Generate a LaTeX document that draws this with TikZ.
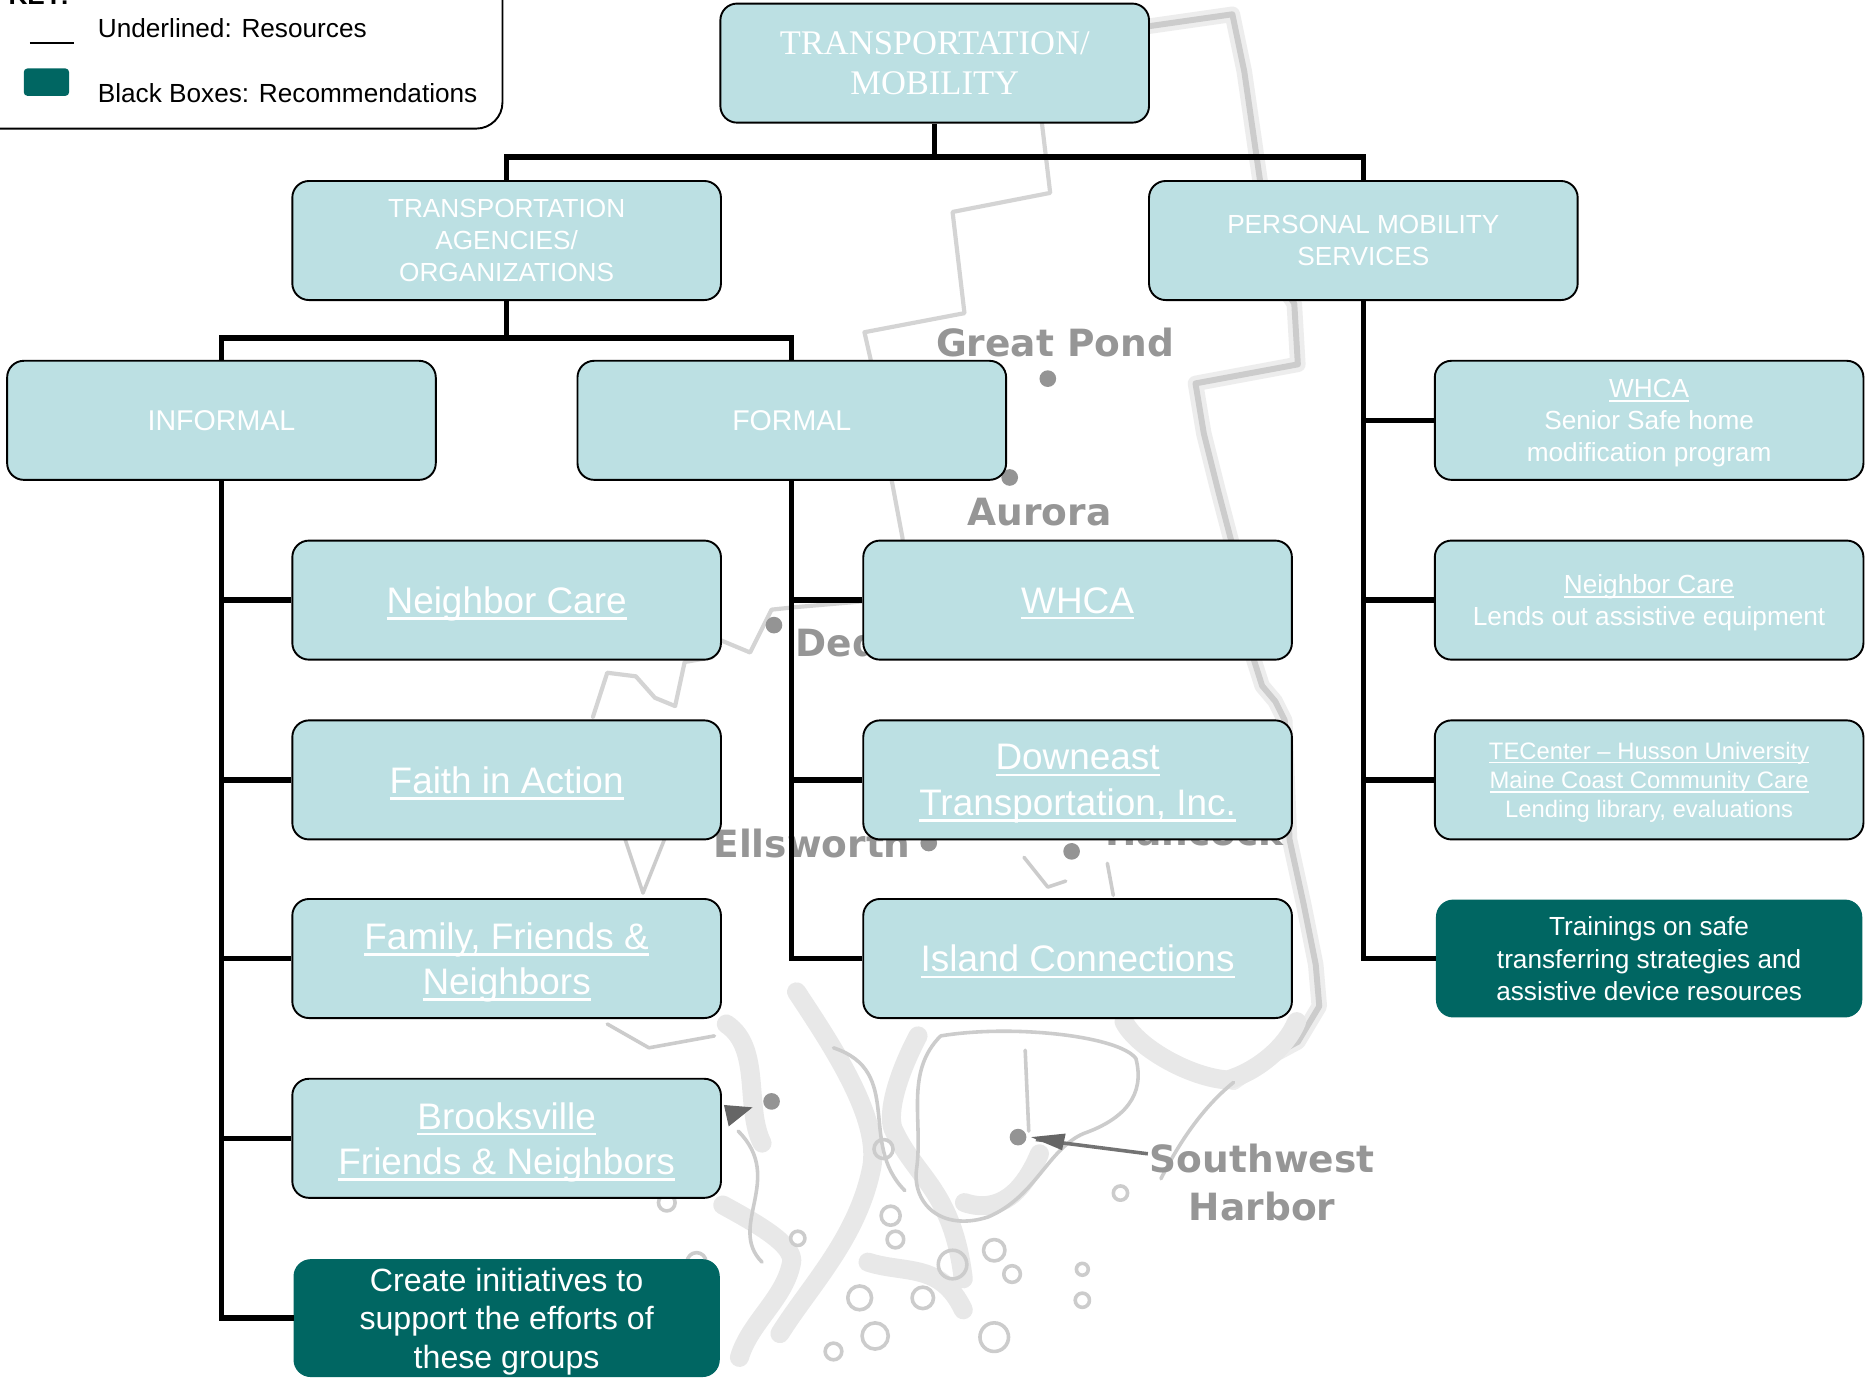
\documentclass[tikz,border=0pt]{standalone}
\usepackage{fontspec}
\setmainfont{Liberation Sans}
\newfontfamily\serifbox{Liberation Serif}
\newfontfamily\mapfont{DejaVu Sans}
\definecolor{boxfill}{RGB}{188,224,227}
\definecolor{recfill}{RGB}{0,102,98}
\definecolor{maptext}{RGB}{150,150,150}
\newcommand\ulx[1]{\setbox0\hbox{#1}\rlap{\raisebox{-0.17em}{\rule{\wd0}{0.065em}}}\box0}
\tikzset{
  box/.style={draw=black, line width=1.6pt, fill=boxfill, rounded corners=14pt,
    minimum width=360pt, minimum height=100pt, text=white, align=center, inner sep=0pt,
    text depth=0pt},
  rec/.style={draw=recfill, line width=1pt, fill=recfill, rounded corners=14pt,
    minimum width=357pt, minimum height=98pt, text=white, align=center, inner sep=0pt,
    text depth=0pt},
  conn/.style={draw=black, line width=4.5pt},
  fbig/.style={font=\fontsize{31}{38}\selectfont},
  fcreate/.style={font=\fontsize{27}{32.5}\selectfont},
  fhead/.style={font=\fontsize{24}{29}\selectfont},
  fmid/.style={font=\fontsize{22}{27}\selectfont},
  fsmall/.style={font=\fontsize{20}{24.5}\selectfont},
  ftop/.style={font=\serifbox\fontsize{29}{34}\selectfont},
  mapthin/.style={draw=black!17, line width=3.5pt, line join=round, line cap=round},
  mapeast/.style={draw=black!20, line width=5pt, line join=round, line cap=round,
    preaction={draw=black!7, line width=13pt, line join=round, line cap=round}},
  coast/.style={draw=black!20, line width=3pt, line join=round, line cap=round},
  coastblur/.style={draw=black!9, line width=16pt, line join=round, line cap=round},
  maplabel/.style={text=maptext, font=\mapfont\bfseries\fontsize{31.5}{36}\selectfont, inner sep=0pt},
  town/.style={fill=black!42},
  keytext/.style={font=\fontsize{22}{27}\selectfont, inner sep=0pt, anchor=west}
}
\begin{document}
\begin{tikzpicture}[x=1pt,y=-1pt]
\useasboundingbox (0,0) rectangle (1568,1157);
\fill[white] (0,0) rectangle (1568,1157);

% ---------------- background map ----------------
\draw[mapeast] (965,22) -- (1035,12) -- (1045,60) -- (1058,150) -- (1070,230) -- (1087,255)
  -- (1090,306) -- (1004,322) -- (1011,364) -- (1023,412) -- (1034,454) -- (1045,520)
  -- (1053,554) -- (1060,576) -- (1071,589) -- (1079,605) -- (1083,705) -- (1095,760)
  -- (1105,810) -- (1108,845) -- (1090,875) -- (1064,889) -- (1036,909);
\draw[mapthin] (875,103) -- (882,162) -- (800,178) -- (810,263) -- (726,279) -- (731,301)
  -- (749,404) -- (758,452) -- (760,500) -- (725,505) -- (667,510) -- (648,512)
  -- (630,548) -- (606,538);
\draw[mapthin] (598,552) -- (575,556) -- (567,593) -- (550,586) -- (534,568) -- (510,565) -- (498,602);
% coast and islands (blurred masses)
\draw[coastblur] (669,833) .. controls (700,880) and (740,940) .. (732,981) .. controls (720,1040) and (680,1080) .. (655,1120);
\draw[coastblur] (771,870) .. controls (750,910) and (745,940) .. (751,950) .. controls (770,990) and (800,1000) .. (809,1074);
\draw[coastblur] (607,1012) .. controls (640,1030) and (665,1045) .. (665,1059) .. controls (660,1090) and (630,1110) .. (621,1140);
\draw[coastblur] (944,858) .. controls (955,880) and (1000,905) .. (1031,907) .. controls (1055,900) and (1080,880) .. (1089,858);
\draw[coastblur] (610,860) .. controls (640,880) and (625,930) .. (640,960);
\draw[coastblur] (873,969) .. controls (860,1000) and (840,1020) .. (810,1010);
\draw[coastblur] (729,1060) .. controls (760,1070) and (790,1060) .. (809,1100);
% coast and islands (outlines)
\draw[coast] (525,705) -- (540,750) -- (558,705);
\draw[coast] (510,860) -- (545,880) -- (600,870);
\draw[coast] (860,720) -- (880,745) -- (895,740);
\draw[coast] (930,725) -- (935,752);
\draw[coast] (620,950) .. controls (660,990) and (610,1030) .. (640,1060);
\draw[coast] (700,880) .. controls (760,900) and (720,960) .. (760,1000);
\draw[coast] (790,870) .. controls (850,860) and (940,870) .. (954,889)
  .. controls (962,920) and (944,940) .. (910,952)
  .. controls (880,965) and (870,1005) .. (830,1022)
  .. controls (790,1035) and (765,1010) .. (770,980)
  .. controls (775,940) and (760,900) .. (790,870);
\draw[coast] (861,882) -- (864,950);
\draw[coast] (1036,909) .. controls (1010,930) and (990,960) .. (975,990);
\foreach \x/\y/\r in {742/965/8, 748/1021/8, 752/1041/7, 800/1062/12, 835/1050/9,
  850/1070/7, 735/1122/11, 835/1123/12, 909/1066/5, 909/1092/6, 941/1002/6,
  670/1040/6, 722/1090/10, 560/1010/7, 585/1060/8, 700/1135/7, 775/1090/9}
  \draw[coast] (\x,\y) circle (\r);
% town dots
\foreach \x/\y in {880/318, 848/401, 650/525, 780/708, 900/715, 648/925, 855/955}
  \fill[town] (\x,\y) circle (7);
\draw[black!55, line width=3pt] (964,969) -- (870,957);
\fill[black!60] (866,955) -- (895,952) -- (892,966) -- cycle;
\fill[black!60] (608,928) -- (632,930) -- (612,946) -- cycle;
% map labels
\node[maplabel] (lgp) at (886,288) {Great Pond};
\node[maplabel] (lau) at (873,430) {Aurora};
\node[maplabel, anchor=west] (lde) at (668,540) {Dedham};
\node[maplabel] (lel) at (682,708) {Ellsworth};
\node[maplabel, anchor=west] (lha) at (928,698) {Hancock};
\node[maplabel] (lsw) at (1060,973) {Southwest};
\node[maplabel] (lhb) at (1060,1013) {Harbor};

% ---------------- key ----------------
\draw[line width=1.6pt, rounded corners=22pt] (-20,108) -- (422,108) -- (422,-20);
\node[anchor=base west, inner sep=0pt, font=\bfseries\fontsize{22}{27}\selectfont] (keyt) at (7,4) {KEY:};
\draw[line width=1.5pt] (25,36) -- (62,36);
\node[fill=recfill, rounded corners=3pt, minimum width=38pt, minimum height=23pt, inner sep=0pt] (keyrec) at (39,69) {};
\node[keytext] (k1) at (82,24) {Underlined: Resources};
\node[keytext] (k2) at (82,78) {Black Boxes: Recommendations};

% ---------------- boxes ----------------
\node[box, ftop] (top) at (785,53) {TRANSPORTATION/\\MOBILITY};
\node[box, fmid] (agencies) at (425.5,202) {TRANSPORTATION\\AGENCIES/\\ORGANIZATIONS};
\node[box, fmid] (personal) at (1145,202) {PERSONAL MOBILITY\\SERVICES};
\node[box, fhead] (informal) at (186,353) {INFORMAL};
\node[box, fhead] (formal) at (665,353) {FORMAL};

\node[box, fbig] (nc1) at (425.5,504) {\ulx{Neighbor Care}};
\node[box, fbig] (fia) at (425.5,655) {\ulx{Faith in Action}};
\node[box, fbig] (ffn) at (425.5,805) {\ulx{Family, Friends \&}\\\ulx{Neighbors}};
\node[box, fbig] (bfn) at (425.5,956) {\ulx{Brooksville}\\\ulx{Friends \& Neighbors}};
\node[rec, fcreate] (create) at (425.5,1107) {Create initiatives to\\support the efforts of\\these groups};

\node[box, fbig] (whca) at (905,504) {\ulx{WHCA}};
\node[box, fbig] (det) at (905,655) {\ulx{Downeast}\\\ulx{Transportation, Inc.}};
\node[box, fbig] (ic) at (905,805) {\ulx{Island Connections}};

\node[box, fmid] (rwhca) at (1385,353) {\ulx{WHCA}\\Senior Safe home\\modification program};
\node[box, fmid] (rnc) at (1385,504) {\ulx{Neighbor Care}\\Lends out assistive equipment};
\node[box, fsmall] (rtec) at (1385,655) {\ulx{TECenter – Husson University}\\\ulx{Maine Coast Community Care}\\Lending library, evaluations};
\node[rec, fmid] (train) at (1385,805) {Trainings on safe\\transferring strategies and\\assistive device resources};

% ---------------- connectors ----------------
\coordinate (j1) at (785,132);
\coordinate (j2) at (425.5,284);
\draw[conn] (top.south) -- (j1);
\draw[conn] (agencies.north) |- (j1) -| (personal.north);
\draw[conn] (agencies.south) -- (j2);
\draw[conn] (informal.north) |- (j2) -| (formal.north);

\draw[conn] (informal.south) |- (create.west);
\draw[conn] (informal.south) |- (nc1.west);
\draw[conn] (informal.south) |- (fia.west);
\draw[conn] (informal.south) |- (ffn.west);
\draw[conn] (informal.south) |- (bfn.west);

\draw[conn] (formal.south) |- (ic.west);
\draw[conn] (formal.south) |- (whca.west);
\draw[conn] (formal.south) |- (det.west);

\draw[conn] (personal.south) |- (train.west);
\draw[conn] (personal.south) |- (rwhca.west);
\draw[conn] (personal.south) |- (rnc.west);
\draw[conn] (personal.south) |- (rtec.west);
\end{tikzpicture}
\end{document}
